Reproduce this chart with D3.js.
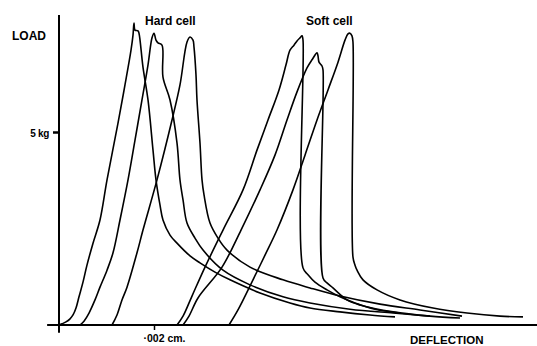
<!DOCTYPE html>
<html>
<head>
<meta charset="utf-8">
<script src="https://cdn.jsdelivr.net/npm/d3@7/dist/d3.min.js"></script>
<style>
  html, body { margin: 0; padding: 0; background: #fff; }
  svg text { font-family: "Liberation Sans", Arial, sans-serif; font-weight: bold; fill: #000; }
</style>
</head>
<body>
<svg id="chart" width="537" height="346"></svg>
<script>
// deflection in 1e-4 cm, load in kg
const hardCell1 = [[0,0],[0.63,0.03],[1.47,0.08],[2.32,0.16],[2.95,0.26],[3.58,0.44],[4.21,0.73],[5.05,1.11],[5.89,1.55],[7.16,2.12],[8.63,2.72],[10.11,3.76],[12.42,5.23],[13.89,6.22],[15.16,7.12],[15.58,7.51],[15.79,7.82],[16.0,7.64],[16.63,7.62],[16.84,7.56],[17.68,6.68],[18.74,5.83],[19.79,4.53],[20.42,3.76],[21.26,3.11],[21.89,2.72],[23.37,2.33],[24.84,2.12],[27.58,1.79],[29.68,1.61],[32.84,1.37],[36.0,1.17],[42.32,0.83],[48.63,0.57],[52.84,0.44],[59.16,0.34],[65.47,0.26],[70.74,0.21]];
const hardCell2 = [[4.42,0],[5.26,0.10],[6.32,0.31],[7.58,0.65],[8.63,0.98],[10.11,1.42],[11.37,1.87],[12.84,2.72],[14.53,3.76],[16.0,4.79],[17.47,5.83],[18.74,6.74],[19.58,7.44],[20.0,7.56],[20.42,7.38],[20.84,7.31],[21.68,7.25],[21.89,6.42],[23.37,5.83],[24.84,4.72],[25.47,3.76],[26.11,3.24],[26.95,2.64],[28.63,2.25],[30.32,1.94],[34.53,1.42],[40.21,1.04],[47.16,0.73],[52.84,0.57],[61.26,0.41],[70.32,0.31],[78.11,0.23]];
const hardCell3 = [[11.16,0],[12.21,0.26],[13.26,0.65],[14.32,0.98],[16.42,1.87],[17.68,2.46],[20.63,3.76],[23.79,5.31],[25.47,6.22],[26.95,7.33],[27.58,7.46],[28.21,7.38],[28.42,7.20],[28.84,6.48],[29.05,5.83],[29.68,4.72],[30.11,3.76],[30.53,3.37],[31.79,2.64],[33.47,2.25],[35.37,1.94],[40.21,1.50],[47.16,1.17],[52.84,0.96],[59.16,0.75],[67.58,0.54],[76.0,0.39],[84.84,0.23]];
const softCell1 = [[24.84,0],[26.11,0.23],[28.0,0.75],[30.74,1.50],[34.53,2.46],[38.74,3.50],[41.68,4.53],[44.0,5.31],[46.32,6.09],[47.79,6.74],[48.63,7.12],[49.47,7.25],[50.11,7.36],[50.74,7.44],[51.16,7.49],[51.37,7.38],[51.37,1.48],[52.42,1.30],[53.89,1.11],[56.42,0.91],[59.16,0.73],[62.32,0.57],[66.53,0.41],[71.79,0.31]];
const softCell2 = [[26.11,0],[27.37,0.23],[29.26,0.70],[34.32,1.50],[38.32,2.46],[42.32,3.50],[45.47,4.40],[48.0,5.31],[50.11,6.04],[52.21,6.66],[53.26,6.87],[54.32,7.05],[54.53,6.97],[54.74,6.81],[55.37,6.71],[55.58,6.61],[55.58,1.22],[56.42,1.09],[57.68,0.96],[60.63,0.65],[63.37,0.52],[70.32,0.34],[78.11,0.23],[84.42,0.18]];
const softCell3 = [[35.79,0],[37.68,0.39],[40.84,1.17],[43.37,1.81],[45.89,2.46],[49.26,3.50],[51.79,4.40],[54.32,5.31],[56.63,6.09],[58.74,6.81],[60.21,7.38],[60.84,7.54],[61.26,7.56],[61.68,7.49],[61.89,7.33],[61.89,1.76],[62.32,1.55],[62.74,1.42],[64.0,1.17],[66.95,0.91],[71.79,0.65],[78.74,0.44],[85.89,0.31],[92.84,0.23],[97.68,0.21]];

const curves = [hardCell1, hardCell2, hardCell3, softCell1, softCell2, softCell3];
const xTicks = [20];
const xTickLabels = ["\u00b7002 cm."];
const yTicks = [5];
const yTickLabels = ["5 kg"];

const svg = d3.select("#chart");

const x = d3.scaleLinear().domain([0, 100]).range([59, 534]);
const y = d3.scaleLinear().domain([0, 8]).range([325, 16.2]);

// axes lines
svg.append("line")
  .attr("x1", x(0)).attr("x2", x(0))
  .attr("y1", y(8.03)).attr("y2", y(-0.2))
  .attr("stroke", "#000").attr("stroke-width", 2);
svg.append("line")
  .attr("x1", x(-2.5)).attr("x2", 537)
  .attr("y1", y(0)).attr("y2", y(0))
  .attr("stroke", "#000").attr("stroke-width", 2);

// y tick
const yAxis = svg.append("g")
  .attr("transform", "translate(" + x(0) + ",0)")
  .call(d3.axisLeft(y).tickValues(yTicks).tickFormat((d, i) => yTickLabels[i]).tickSize(6).tickPadding(4));
yAxis.select(".domain").remove();
yAxis.selectAll("line").attr("stroke-width", 2.5);
yAxis.selectAll("text").style("font-size", "10px").attr("dy", "0.4em").style("letter-spacing", "-0.3px");

// x tick
const xAxis = svg.append("g")
  .attr("transform", "translate(0," + y(0) + ")")
  .call(d3.axisBottom(x).tickValues(xTicks).tickFormat((d, i) => xTickLabels[i]).tickSize(5).tickPadding(6));
xAxis.select(".domain").remove();
xAxis.selectAll("line").attr("stroke-width", 1.5);
xAxis.selectAll("text").style("font-size", "10.5px").attr("dx", 10).attr("dy", "0.6em");

// curves
const line = d3.line()
  .x(d => x(d[0]))
  .y(d => y(d[1]))
  .curve(d3.curveCatmullRom.alpha(0.5));

svg.selectAll("path.curve")
  .data(curves)
  .enter()
  .append("path")
  .attr("class", "curve")
  .attr("d", line)
  .attr("fill", "none")
  .attr("stroke", "#000")
  .attr("stroke-width", 1.6)
  .attr("stroke-linejoin", "round");

// labels
svg.append("text").attr("x", 12).attr("y", 40).style("font-size", "12px").text("LOAD");
svg.append("text").attr("x", 410).attr("y", 344).style("font-size", "11.5px").text("DEFLECTION");
svg.append("text").attr("x", 145).attr("y", 25).style("font-size", "12px").text("Hard cell");
svg.append("text").attr("x", 306).attr("y", 25).style("font-size", "12px").text("Soft cell");
</script>
</body>
</html>
